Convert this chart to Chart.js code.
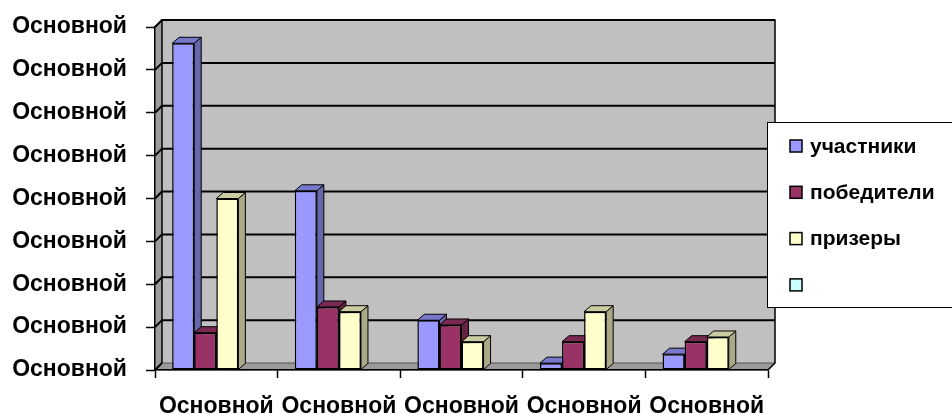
<!DOCTYPE html>
<html>
<head>
<meta charset="utf-8">
<script src="https://cdn.jsdelivr.net/npm/chart.js@4"></script>
<style>
  html, body { margin: 0; padding: 0; background: #fff; }
  canvas { display: block; }
</style>
</head>
<body>
<canvas id="chart" width="952" height="414"></canvas>
<script>
// Data
const categories = ['Основной', 'Основной', 'Основной', 'Основной', 'Основной'];
const yTickLabel = 'Основной';
const seriesNames = ['участники', 'победители', 'призеры', ''];
const uchastniki = [7.62, 4.18, 1.16, 0.16, 0.37];
const pobediteli = [0.87, 1.47, 1.05, 0.66, 0.66];
const prizery = [4.0, 1.36, 0.66, 1.36, 0.77];
const empty4 = [];

// Colors (front, side, top)
const fronts = ['#9999FF', '#993366', '#FFFFCC', '#CCFFFF'];
const sides = ['#6666AA', '#66223F', '#AAAA88', '#88AAAA'];
const tops = ['#7777CC', '#7A2952', '#CCCCA3', '#A3CCCC'];

const FONT = 'Liberation Sans, Arial, sans-serif';
const WALL_DX = 7, WALL_DY = 7;
const BAR_DX = 7, BAR_DY = 6;

const wallPlugin = {
    id: 'wall',
    beforeDraw(chart) {
        const ctx = chart.ctx;
        const a = chart.chartArea;
        const y = chart.scales.y;
        ctx.save();
        // back wall
        ctx.fillStyle = '#C0C0C0';
        ctx.fillRect(a.left + WALL_DX, a.top - WALL_DY, a.right - a.left, a.bottom - a.top);
        // left side wall
        ctx.fillStyle = '#9C9C9C';
        ctx.beginPath();
        ctx.moveTo(a.left, a.top);
        ctx.lineTo(a.left + WALL_DX, a.top - WALL_DY);
        ctx.lineTo(a.left + WALL_DX, a.bottom - WALL_DY);
        ctx.lineTo(a.left, a.bottom);
        ctx.closePath();
        ctx.fill();
        // floor
        ctx.fillStyle = '#9A9A9A';
        ctx.beginPath();
        ctx.moveTo(a.left, a.bottom);
        ctx.lineTo(a.left + WALL_DX, a.bottom - WALL_DY);
        ctx.lineTo(a.right + WALL_DX, a.bottom - WALL_DY);
        ctx.lineTo(a.right, a.bottom);
        ctx.closePath();
        ctx.fill();
        ctx.strokeStyle = '#555';
        ctx.lineWidth = 1;
        ctx.stroke();
        // gridlines on wall
        ctx.strokeStyle = '#000';
        ctx.lineWidth = 2;
        y.ticks.forEach(t => {
            const py = y.getPixelForValue(t.value);
            ctx.beginPath();
            ctx.moveTo(a.left, py);
            ctx.lineTo(a.left + WALL_DX, py - WALL_DY);
            if (t.value > 0) ctx.lineTo(a.right + WALL_DX, py - WALL_DY);
            ctx.stroke();
        });
        // wall border
        ctx.lineWidth = 1.5;
        ctx.beginPath();
        ctx.moveTo(a.left + WALL_DX, a.bottom - WALL_DY);
        ctx.lineTo(a.left + WALL_DX, a.top - WALL_DY);
        ctx.lineTo(a.right + WALL_DX, a.top - WALL_DY);
        ctx.lineTo(a.right + WALL_DX, a.bottom - WALL_DY);
        ctx.lineTo(a.right, a.bottom);
        ctx.stroke();
        ctx.restore();
    },
    beforeDatasetsDraw(chart) {
        const ctx = chart.ctx;
        ctx.save();
        ctx.strokeStyle = '#000';
        ctx.lineWidth = 1;
        const n = chart.data.labels.length;
        for (let j = 0; j < n; j++) {
            chart.data.datasets.forEach((ds, i) => {
                const el = chart.getDatasetMeta(i).data[j];
                if (!el || ds.data[j] == null) return;
                const l = el.x - el.width / 2, r = el.x + el.width / 2;
                const t = el.y, b = el.base;
                // side face
                ctx.fillStyle = sides[i];
                ctx.beginPath();
                ctx.moveTo(r, t);
                ctx.lineTo(r + BAR_DX, t - BAR_DY);
                ctx.lineTo(r + BAR_DX, b - BAR_DY);
                ctx.lineTo(r, b);
                ctx.closePath();
                ctx.fill();
                ctx.stroke();
                // top face
                ctx.fillStyle = tops[i];
                ctx.beginPath();
                ctx.moveTo(l, t);
                ctx.lineTo(l + BAR_DX, t - BAR_DY);
                ctx.lineTo(r + BAR_DX, t - BAR_DY);
                ctx.lineTo(r, t);
                ctx.closePath();
                ctx.fill();
                ctx.stroke();
            });
        }
        ctx.restore();
    },
    afterDraw(chart) {
        // legend box
        const ctx = chart.ctx;
        ctx.save();
        ctx.fillStyle = '#fff';
        ctx.strokeStyle = '#000';
        ctx.lineWidth = 1;
        ctx.fillRect(767.5, 122.5, 200, 185);
        ctx.strokeRect(767.5, 122.5, 200, 185);
        ctx.font = 'bold 21px ' + FONT;
        ctx.textBaseline = 'middle';
        ctx.fillStyle = '#000';
        chart.data.datasets.forEach((ds, i) => {
            const cy = 146 + i * 46.3;
            ctx.fillStyle = ds.backgroundColor;
            ctx.fillRect(790, cy - 6, 12, 12);
            ctx.lineWidth = 1.5;
            ctx.strokeRect(790, cy - 6, 12, 12);
            ctx.fillStyle = '#000';
            ctx.fillText(ds.label, 810, cy + 1);
        });
        ctx.restore();
    }
};

const seriesData = [uchastniki, pobediteli, prizery, empty4];

new Chart(document.getElementById('chart'), {
    type: 'bar',
    data: {
        labels: categories,
        datasets: seriesNames.map((name, i) => ({
            label: name,
            data: seriesData[i],
            backgroundColor: fronts[i],
            borderColor: '#000',
            borderWidth: 1.5,
            borderSkipped: false,
            barPercentage: 1,
            categoryPercentage: 0.72,
        })),
    },
    options: {
        responsive: false,
        animation: false,
        layout: { padding: { top: 27, right: 184, bottom: 0, left: 0 } },
        plugins: {
            legend: { display: false },
            tooltip: { enabled: false },
        },
        scales: {
            y: {
                min: 0,
                max: 8,
                afterFit: (s) => { s.width = 155; s.paddingTop = 0; s.paddingBottom = 0; },
                ticks: {
                    stepSize: 1,
                    callback: () => yTickLabel,
                    color: '#000',
                    padding: 19,
                    font: { family: FONT, size: 23, weight: 'bold' },
                },
                grid: { drawOnChartArea: false, tickLength: 9, tickColor: '#000', tickWidth: 1.5 },
                border: { display: true, color: '#000', width: 1.5 },
            },
            x: {
                afterFit: (s) => { s.height = 44; s.paddingLeft = 0; s.paddingRight = 0; },
                ticks: {
                    color: '#000',
                    padding: 15,
                    autoSkip: false,
                    maxRotation: 0,
                    font: { family: FONT, size: 23, weight: 'bold' },
                },
                grid: { offset: true, drawOnChartArea: false, tickLength: 8, tickColor: '#000', tickWidth: 1.5 },
                border: { display: true, color: '#000', width: 1.5 },
            },
        },
    },
    plugins: [wallPlugin],
});
</script>
</body>
</html>
